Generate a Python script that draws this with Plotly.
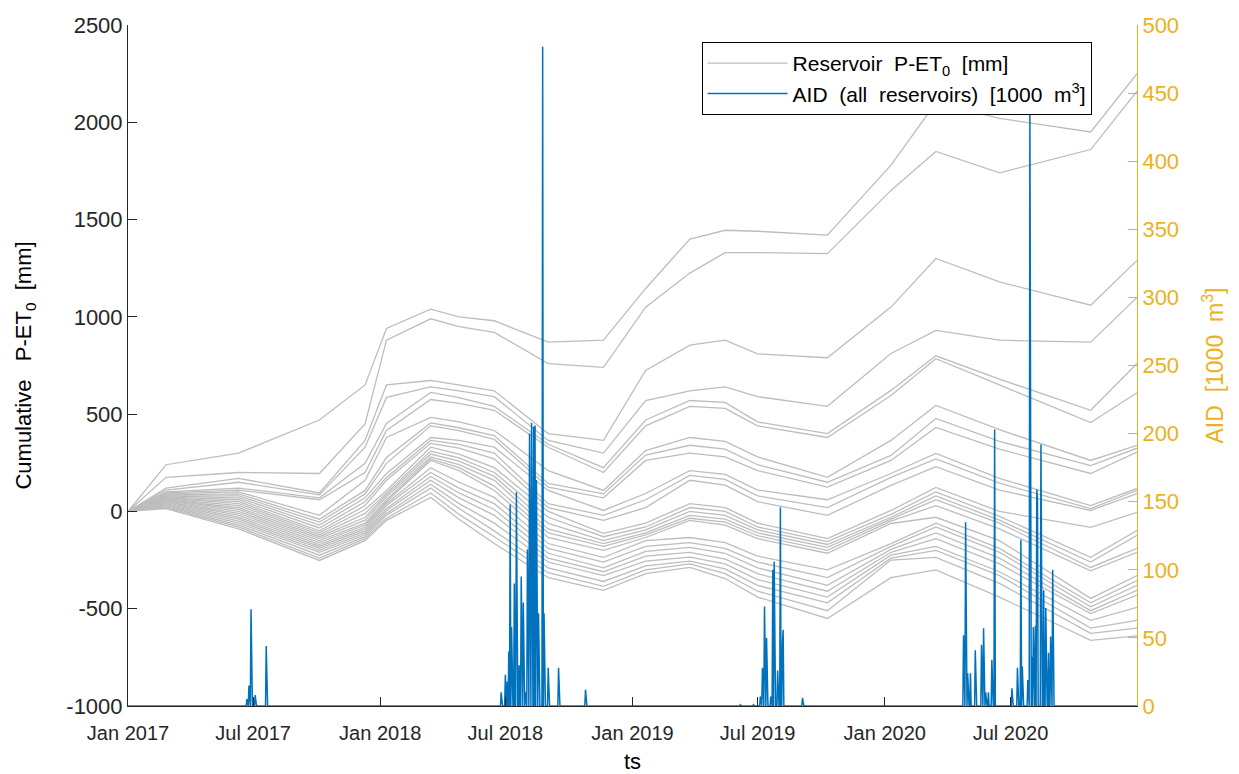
import pandas as pd
import plotly.graph_objects as go

# Dates at which each reservoir's cumulative P-ET0 is given [mm]
key_dates = ["2017-01-01", "2017-02-25", "2017-06-10", "2017-10-05", "2017-12-10",
             "2018-01-10", "2018-03-15", "2018-04-25", "2018-06-15", "2018-09-01",
             "2018-11-20", "2019-01-20", "2019-03-25", "2019-05-15", "2019-07-01",
             "2019-10-10", "2020-01-10", "2020-03-15", "2020-06-15", "2020-10-25",
             "2020-12-31"]

res01 = [0, 240, 300, 470, 650, 940, 1040, 1000, 980, 870, 880, 1146, 1400, 1445, 1440, 1420, 1780, 2100, 2020, 1950, 2250]
res02 = [0, 175, 200, 195, 450, 880, 990, 950, 920, 760, 740, 1050, 1225, 1330, 1330, 1325, 1650, 1850, 1740, 1860, 2160]
res03 = [0, 120, 170, 95, 365, 650, 673, 650, 620, 400, 365, 725, 855, 880, 810, 790, 1050, 1300, 1180, 1060, 1290]
res04 = [0, 110, 150, 85, 330, 586, 640, 620, 590, 365, 300, 570, 620, 640, 590, 540, 812, 930, 880, 870, 1100]
res05 = [0, 100, 120, 70, 247, 452, 612, 585, 540, 345, 225, 470, 570, 560, 460, 400, 622, 800, 680, 520, 760]
res06 = [0, 95, 110, 60, 200, 416, 575, 555, 520, 330, 200, 440, 540, 530, 440, 380, 596, 785, 650, 457, 610]
res07 = [0, 90, 100, -20, 160, 380, 483, 460, 416, 210, 108, 313, 380, 360, 280, 175, 365, 545, 420, 262, 340]
res08 = [0, 85, 90, -40, 108, 277, 455, 430, 390, 144, 90, 290, 340, 320, 240, 150, 288, 478, 360, 236, 325]
res09 = [0, 80, 80, -55, 90, 247, 440, 415, 370, 125, 70, 262, 300, 280, 210, 125, 262, 432, 320, 195, 305]
res10 = [0, 80, 70, -70, 70, 195, 380, 365, 330, 108, 5, 92, 210, 190, 110, 60, 195, 298, 170, 30, 118]
res11 = [0, 75, 60, -85, 50, 175, 365, 345, 300, 40, -20, 60, 185, 165, 80, 20, 175, 270, 145, 15, 108]
res12 = [0, 70, 50, -100, 30, 160, 350, 325, 270, 20, -46, 20, 160, 135, 50, -20, 134, 230, 110, 5, 92]
res13 = [0, 70, 40, -110, 10, 108, 330, 295, 225, 0, -113, -60, 40, 20, -60, -140, 5, 123, 0, -82, -5]
res14 = [0, 65, 30, -120, -10, 95, 310, 275, 200, -30, -130, -80, 20, 0, -80, -155, -15, 100, -25, -236, -98]
res15 = [0, 60, 20, -130, -30, 85, 295, 258, 180, -62, -150, -95, 0, -20, -95, -170, -30, 80, -45, -260, -123]
res16 = [0, 60, 10, -140, -45, 75, 280, 240, 160, -90, -165, -110, -20, -40, -110, -185, -40, 60, -60, -288, -190]
res17 = [0, 55, 0, -150, -60, 60, 270, 225, 130, -110, -180, -120, -35, -55, -125, -200, -50, 30, -90, -305, -210]
res18 = [0, 50, -10, -160, -70, 50, 262, 210, 108, -134, -200, -134, -46, -70, -140, -215, -62, -30, -150, -447, -330]
res19 = [0, 50, -20, -170, -80, 40, 225, 150, 72, -165, -236, -150, -134, -160, -230, -300, -165, -60, -190, -470, -355]
res20 = [0, 45, -30, -180, -90, 30, 200, 120, 40, -190, -260, -180, -160, -190, -260, -340, -180, -80, -210, -490, -380]
res21 = [0, 40, -40, -190, -100, 15, 180, 95, 10, -215, -290, -205, -185, -215, -290, -380, -195, -110, -240, -510, -405]
res22 = [0, 35, -50, -200, -110, 5, 160, 70, -20, -240, -310, -230, -210, -245, -320, -410, -210, -140, -270, -525, -430]
res23 = [0, 30, -60, -210, -120, -10, 140, 40, -60, -260, -330, -255, -235, -270, -350, -440, -225, -180, -310, -560, -493]
res24 = [0, 25, -70, -225, -130, -20, 120, 15, -100, -290, -360, -280, -255, -295, -380, -470, -240, -200, -330, -600, -560]
res25 = [0, 20, -80, -240, -140, -35, 95, -15, -130, -315, -385, -300, -270, -320, -410, -510, -250, -236, -370, -627, -600]
res26 = [0, 15, -90, -252, -150, -46, 72, -40, -165, -340, -406, -320, -288, -345, -440, -550, -340, -300, -440, -663, -640]

reservoirs = [res01, res02, res03, res04, res05, res06, res07, res08, res09, res10, res11, res12, res13,
              res14, res15, res16, res17, res18, res19, res20, res21, res22, res23, res24, res25, res26]

# Daily AID summed over all reservoirs [1000 m3]; days not listed are zero
aid_dates = ["2017-06-22", "2017-06-25", "2017-06-28", "2017-07-04", "2017-07-20",
             "2018-06-25", "2018-07-01", "2018-07-04", "2018-07-06", "2018-07-08", "2018-07-10",
             "2018-07-14", "2018-07-17", "2018-07-18", "2018-07-21", "2018-07-24", "2018-07-27",
             "2018-07-30", "2018-08-02", "2018-08-05", "2018-08-08", "2018-08-11", "2018-08-13",
             "2018-08-15", "2018-08-18", "2018-08-24", "2018-08-26", "2018-09-01", "2018-09-16",
             "2018-10-25",
             "2019-06-06", "2019-06-25", "2019-07-05", "2019-07-08", "2019-07-11", "2019-07-14",
             "2019-07-20", "2019-07-23", "2019-07-25", "2019-07-30", "2019-08-03", "2019-08-06",
             "2019-08-07", "2019-09-04",
             "2020-04-24", "2020-04-27", "2020-04-30", "2020-05-04", "2020-05-11", "2020-05-20",
             "2020-05-23", "2020-05-26", "2020-05-30", "2020-06-04", "2020-06-08", "2020-07-03",
             "2020-07-11", "2020-07-16", "2020-07-18", "2020-07-26", "2020-07-29", "2020-08-01",
             "2020-08-03", "2020-08-06", "2020-08-08", "2020-08-09", "2020-08-14", "2020-08-15",
             "2020-08-18", "2020-08-21", "2020-08-22", "2020-08-25", "2020-08-28", "2020-08-31"]
aid_values = [5, 15, 71, 8, 44,
              10, 23, 18, 40, 148, 58,
              90, 157, 68, 30, 95, 76,
              10, 115, 200, 208, 205, 206,
              166, 68, 484, 68, 28, 28,
              12,
              1, 1, 7, 28, 73, 50,
              7, 100, 106, 26, 146, 46,
              56, 6,
              52, 135, 24, 24, 41, 45,
              57, 10, 10, 34, 203, 13,
              28, 122, 29, 19, 440, 36,
              58, 59, 159, 151, 192, 87,
              85, 72, 24, 39, 51, 100]

left_ticks = [-1000, -500, 0, 500, 1000, 1500, 2000, 2500]
left_ticktext = ["-1000", "-500", "0", "500", "1000", "1500", "2000", "2500"]
right_ticks = [0, 50, 100, 150, 200, 250, 300, 350, 400, 450, 500]
x_ticks = ["2017-01-01", "2017-07-01", "2018-01-01", "2018-07-01",
           "2019-01-01", "2019-07-01", "2020-01-01", "2020-07-01"]
x_ticktext = ["Jan 2017", "Jul 2017", "Jan 2018", "Jul 2018",
              "Jan 2019", "Jul 2019", "Jan 2020", "Jul 2020"]

days = pd.date_range("2017-01-01", "2020-12-31", freq="D")
aid = pd.Series(0.0, index=days)
aid.loc[pd.to_datetime(aid_dates)] = aid_values

GRAY = "#BDBDBD"
BLUE = "#0072BD"
GOLD = "#EDB120"
AXIS = "#262626"
FONT = "Liberation Sans, Arial, sans-serif"
SP = "\u00a0"

fig = go.Figure()
for i, values in enumerate(reservoirs):
    fig.add_trace(go.Scatter(
        x=key_dates, y=values, mode="lines",
        line=dict(color=GRAY, width=1.3),
        name=f"Reservoir{SP*2}P-ET<sub>0</sub>{SP*2}[mm]",
        legendgroup="res", showlegend=(i == 0), hoverinfo="skip"))

fig.add_trace(go.Scatter(
    x=aid.index, y=aid.values, mode="lines", yaxis="y2",
    line=dict(color=BLUE, width=1.5),
    name=f"AID{SP*2}(all{SP*2}reservoirs){SP*2}[1000{SP*2}m<sup>3</sup>]"))

fig.update_layout(
    width=1239, height=774,
    margin=dict(l=128, r=102, t=25, b=68),
    paper_bgcolor="white", plot_bgcolor="white",
    font=dict(family=FONT, size=20, color="black"),
    showlegend=True,
    legend=dict(x=0.955, y=0.975, xanchor="right", yanchor="top",
                bgcolor="white", bordercolor="black", borderwidth=1,
                font=dict(size=21), tracegroupgap=0, itemwidth=80),
    xaxis=dict(
        type="date", range=["2017-01-01", "2020-12-31"],
        tickvals=x_ticks, ticktext=x_ticktext,
        ticks="inside", ticklen=9, tickcolor=AXIS,
        showline=True, linecolor=AXIS, linewidth=1,
        showgrid=False, zeroline=False, ticklabelstandoff=9, automargin=False,
        title=dict(text="ts", standoff=10, font=dict(size=22)),
        tickfont=dict(size=20, color=AXIS)),
    yaxis=dict(
        range=[-1000, 2500], tickvals=left_ticks, ticktext=left_ticktext,
        ticks="inside", ticklen=9, tickcolor=AXIS,
        showline=True, linecolor=AXIS, linewidth=1,
        showgrid=False, zeroline=False, automargin=False,
        title=dict(text=f"Cumulative{SP*3}P-ET<sub>0</sub>{SP*2}[mm]", standoff=28,
                   font=dict(size=22)),
        tickfont=dict(size=22, color=AXIS)),
    yaxis2=dict(
        overlaying="y", side="right", range=[0, 500], tickvals=right_ticks,
        ticks="inside", ticklen=9, tickcolor=GOLD,
        showline=True, linecolor=GOLD, linewidth=1,
        showgrid=False, zeroline=False, automargin=False,
        title=dict(text=f"AID{SP*2}[1000{SP*2}m<sup>3</sup>]", font=dict(color=GOLD, size=23),
                   standoff=28),
        tickfont=dict(size=22, color=GOLD)),
)

fig.write_html("out.html")
